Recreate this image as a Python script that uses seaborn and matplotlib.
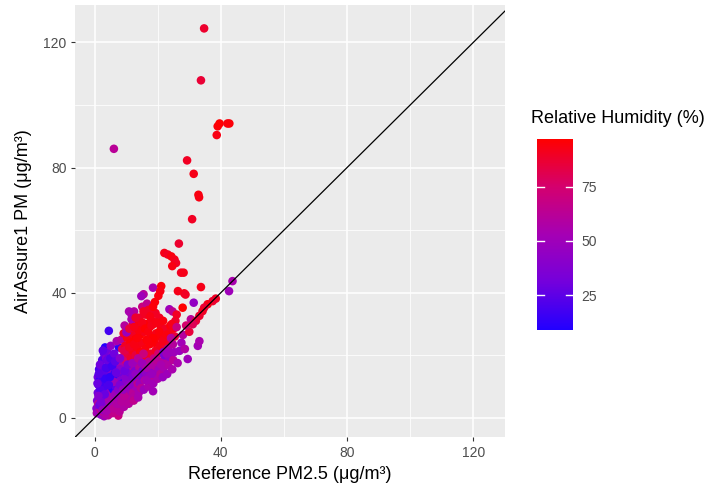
import numpy as np
import pandas as pd
import seaborn as sns
import matplotlib.pyplot as plt
from matplotlib.colors import LinearSegmentedColormap, Normalize
from matplotlib.cm import ScalarMappable
from matplotlib.ticker import MultipleLocator

plt.rcParams['font.family'] = ['Liberation Sans', 'DejaVu Sans']

# Dense cloud (x, y, RH)
core_x = [0.6, 0.8, 1.0, 1.2, 1.0, 1.4, 0.7, 1.3, 1.5, 1.6,
          2.0, 2.2, 2.5, 2.3, 2.6, 2.1, 2.8, 2.4, 3.0, 2.9, 3.0, 2.7, 3.2,
          3.5, 3.8, 4.0, 3.6, 4.2, 3.9, 4.4, 3.7, 4.5, 3.3, 4.3, 4.6, 4.8, 4.1,
          5.0, 5.3, 5.5, 5.2, 5.8, 5.4, 6.0, 5.6, 5.1, 6.2, 5.9, 6.3,
          6.6, 6.8, 7.0, 7.2, 6.9, 7.4, 7.1, 7.7, 7.5, 7.0, 7.6, 6.7,
          8.0, 8.3, 8.6, 8.2, 8.8, 8.4, 9.0, 8.7, 8.5, 9.1, 8.9, 8.1, 9.2,
          9.6, 9.9, 10.2, 9.8, 10.4, 10.0, 10.5, 9.7, 10.3, 10.1, 10.6, 9.5,
          11.0, 11.3, 11.6, 11.2, 11.9, 11.5, 12.0, 11.4, 11.8, 12.1, 11.7, 12.2, 11.1,
          12.6, 12.9, 13.2, 12.8, 13.4, 13.0, 13.5, 12.7, 13.3, 13.1, 12.5, 13.6,
          14.0, 14.3, 14.6, 14.2, 14.8, 14.5, 15.0, 14.4, 14.9, 14.1, 15.1, 14.7, 15.2,
          15.6, 15.9, 16.2, 15.8, 16.4, 16.0, 16.5, 15.7, 16.3, 16.1, 16.6, 15.5,
          17.0, 17.3, 17.6, 17.2, 17.8, 17.5, 18.0, 17.4, 17.9, 17.1, 18.2,
          18.6, 18.9, 19.2, 18.8, 19.4, 19.0, 19.5, 18.7, 19.3, 19.1, 18.5,
          20.0, 20.3, 20.6, 20.2, 20.8, 20.4, 21.0, 20.5, 21.1, 20.8, 20.2, 20.9,
          21.6, 21.9, 22.2, 21.8, 22.4, 22.0, 22.5, 21.7, 22.1,
          23.0, 23.3, 23.6, 23.2, 23.8, 23.5, 24.0, 23.7,
          24.6, 24.9, 25.2, 24.8, 25.4, 25.0, 25.6, 24.7,
          1.8, 2.4, 3.1, 3.8, 4.6, 5.4, 6.1, 6.9, 1.1, 1.9, 2.7, 3.5, 4.4, 5.7,
          7.9, 9.3, 10.8, 12.4, 13.8, 10.9, 11.9, 14.8, 10.1, 11.7, 14.8, 18.5]
core_y = [3.0, 5.5, 8.0, 10.5, 13.0, 15.5, 1.5, 2.0, 6.5, 12.0,
          1.0, 3.5, 6.0, 8.5, 11.0, 13.5, 16.0, 18.5, 20.5, 4.5, 0.5, 9.5, 14.0,
          1.5, 4.0, 6.5, 9.0, 11.5, 14.5, 17.0, 19.0, 27.8, 22.5, 0.8, 3.0, 8.0, 21.0,
          2.5, 5.0, 7.5, 10.0, 12.5, 15.0, 17.5, 20.0, 23.0, 4.0, 9.0, 14.0,
          2.0, 5.5, 8.5, 11.0, 13.5, 16.0, 19.0, 22.5, 0.7, 24.5, 6.5, 10.0,
          4.0, 7.0, 9.5, 12.0, 14.5, 17.0, 19.5, 22.0, 25.0, 5.5, 11.0, 15.5, 27.0,
          5.0, 8.0, 10.5, 13.0, 15.5, 18.0, 20.5, 23.0, 25.5, 28.0, 7.0, 29.5,
          6.0, 9.0, 11.5, 14.0, 16.5, 19.0, 21.5, 24.0, 27.0, 30.0, 33.0, 8.0, 12.5,
          7.0, 10.0, 12.5, 15.0, 17.5, 20.0, 22.5, 25.0, 27.5, 30.5, 34.0, 11.0,
          8.0, 11.0, 13.5, 16.0, 18.5, 21.0, 24.0, 26.5, 29.0, 32.0, 35.5, 9.5, 15.0,
          9.0, 12.0, 14.5, 17.0, 19.5, 22.0, 25.0, 27.5, 30.0, 33.0, 36.5, 39.5,
          10.0, 13.0, 15.5, 18.0, 20.5, 23.5, 26.0, 29.0, 31.5, 34.5, 11.5,
          11.0, 14.0, 16.5, 19.0, 21.5, 24.0, 27.0, 30.0, 33.5, 37.0, 41.6,
          12.5, 15.5, 18.0, 20.5, 23.0, 26.0, 29.0, 32.0, 42.1, 40.5, 39.0, 14.0,
          13.0, 16.0, 18.5, 21.0, 23.5, 26.0, 28.5, 31.0, 20.0,
          14.0, 17.0, 19.5, 22.0, 24.5, 27.0, 29.5, 34.7,
          15.5, 18.5, 21.0, 23.5, 26.0, 28.5, 31.0, 34.0,
          7.0, 10.0, 12.0, 16.0, 13.0, 18.0, 11.5, 14.5, 4.5, 2.5, 2.0, 1.0, 5.5, 1.5,
          2.0, 3.5, 4.5, 5.5, 6.5, 34.0, 31.5, 38.9, 27.3, 31.5, 20.5, 8.5]
core_rh = [40, 35, 30, 25, 30, 20, 55, 50, 45, 15,
           45, 38, 20, 15, 25, 35, 30, 22, 28, 60, 50, 12, 18,
           55, 42, 30, 20, 14, 25, 32, 38, 18, 10, 62, 48, 40, 30,
           50, 45, 55, 20, 22, 35, 28, 40, 45, 60, 12, 15,
           58, 50, 42, 30, 18, 35, 48, 12, 70, 55, 65, 25,
           52, 60, 45, 38, 30, 55, 70, 80, 60, 48, 20, 42, 88,
           55, 62, 48, 40, 28, 75, 85, 90, 92, 80, 45, 60,
           58, 50, 42, 35, 60, 88, 92, 95, 90, 88, 55, 62, 30,
           60, 52, 45, 38, 55, 85, 93, 96, 90, 94, 60, 65,
           55, 48, 40, 60, 80, 95, 92, 96, 90, 88, 70, 62, 35,
           50, 58, 45, 65, 90, 94, 96, 92, 95, 90, 65, 60,
           55, 48, 40, 62, 88, 95, 93, 96, 92, 90, 65,
           52, 45, 58, 70, 90, 95, 92, 94, 90, 95, 55,
           55, 50, 62, 75, 92, 95, 92, 90, 95, 93, 94, 60,
           48, 55, 60, 42, 88, 93, 90, 94, 35,
           50, 58, 45, 55, 88, 92, 95, 50,
           55, 62, 50, 60, 85, 92, 88, 65,
           35, 20, 28, 15, 40, 25, 50, 45, 60, 65, 68, 58, 55, 66,
           62, 58, 60, 65, 55, 55, 50, 50, 48, 55, 92, 52]

# Extra points where the cloud is packed solid
fill_x = [1.5, 1.8, 2.0, 2.2, 1.7, 3.4, 3.6, 4.0, 2.6, 5.0, 5.5, 6.2, 6.5, 4.8, 4.5, 3.2, 2.0,
          1.2, 0.9, 1.3,
          2.5, 3.8, 5.0, 6.0, 7.0, 7.8, 8.5, 9.5, 6.5, 7.5, 8.0, 9.0, 10.0, 11.0, 12.0, 13.0,
          9.5, 10.5, 8.0, 6.8, 12.0, 13.8, 15.0, 16.5, 18.0, 19.5, 16.5, 18.0, 21.0, 22.8, 15.5,
          9.5, 11.0, 12.5, 13.5, 14.0, 15.0, 16.0, 17.0, 18.0, 18.5, 19.5, 20.5, 17.5, 18.5,
          15.5, 13.0, 11.0, 12.5, 16.8, 21.5, 22.8, 24.5, 26.0]
fill_y = [4.0, 9.0, 11.5, 15.0, 17.0, 12.5, 16.0, 18.5, 21.5, 19.0, 16.5, 20.5, 18.0, 13.0,
          10.5, 7.5, 5.0, 7.0, 11.0, 14.0,
          2.5, 2.2, 4.2, 3.0, 4.5, 6.0, 5.2, 7.0, 7.5, 9.0, 10.5, 9.0, 12.0, 10.5, 13.0, 14.0,
          15.0, 17.0, 19.0, 14.5, 17.5, 19.0, 17.5, 16.0, 17.0, 18.5, 12.0, 14.0, 17.0, 20.5, 20.5,
          21.5, 22.5, 23.5, 25.5, 28.0, 30.5, 28.5, 27.5, 29.5, 25.5, 30.5, 27.5, 32.5, 35.5,
          34.0, 32.0, 28.5, 29.0, 24.5, 24.5, 26.5, 30.0, 33.0]
fill_rh = [30, 22, 18, 25, 30, 15, 20, 28, 25, 22, 18, 30, 25, 14, 20, 28, 35, 38, 28, 24,
           48, 55, 52, 62, 58, 55, 60, 62, 50, 42, 35, 48, 40, 45, 38, 45,
           30, 35, 40, 28, 50, 62, 50, 55, 58, 62, 52, 48, 55, 50, 70,
           82, 90, 93, 95, 94, 92, 96, 94, 92, 96, 93, 95, 93, 95,
           90, 88, 85, 92, 95, 92, 94, 92, 90]

# Points running up along the 1:1 line and stragglers on the right
tail_x = [26.9, 26.3, 27.5, 28.0, 29.5, 28.6, 30.0, 32.7, 33.2, 30.5, 29.0, 31.4, 26.4, 27.9,
          38.4, 37.4, 35.8, 34.7, 34.2, 33.2, 32.1, 31.1, 28.4, 28.8, 26.0, 24.2]
tail_y = [21.4, 17.5, 24.0, 26.5, 18.8, 22.0, 27.5, 23.0, 24.5, 31.5, 29.5, 36.8, 40.5, 35.2,
          38.1, 37.3, 36.3, 35.2, 34.1, 32.6, 31.0, 29.9, 39.8, 39.4, 29.0, 25.5]
tail_rh = [48, 55, 52, 60, 50, 58, 85, 52, 55, 62, 75, 45, 92, 97,
           90, 88, 92, 86, 90, 88, 85, 80, 92, 90, 70, 62]

# Isolated high readings
out_x = [34.7, 33.7, 39.0, 39.6, 42.1, 42.7, 38.7, 6.1, 29.3, 31.4, 32.9, 33.1, 30.9, 26.7,
         22.1, 23.2, 24.3, 25.3, 25.8, 24.6, 27.4, 28.2, 33.7, 43.7, 42.6]
out_y = [124.5, 107.9, 93.2, 94.1, 94.1, 94.1, 90.4, 86.0, 82.3, 78.0, 71.3, 70.5, 63.5, 55.7,
         52.7, 52.2, 51.6, 50.6, 49.5, 48.5, 46.4, 46.4, 41.8, 43.7, 40.5]
out_rh = [88, 86, 95, 96, 94, 95, 93, 62, 90, 92, 94, 93, 90, 88,
          92, 90, 94, 92, 90, 93, 90, 92, 92, 55, 50]

df = pd.DataFrame({
    'ref': core_x + fill_x + tail_x + out_x,
    'pm': core_y + fill_y + tail_y + out_y,
    'rh': core_rh + fill_rh + tail_rh + out_rh,
})

cmap = LinearSegmentedColormap.from_list(
    'rh', ['#2200FF', '#7400DC', '#A500B4', '#D4006E', '#FF0000'])
norm = Normalize(vmin=9, vmax=97)

fig = plt.figure(figsize=(7.15, 4.94), dpi=100)
ax = fig.add_axes([0.105, 0.115, 0.601, 0.875])
ax.set_facecolor('#EBEBEB')

sns.scatterplot(data=df, x='ref', y='pm', hue='rh', palette=cmap, hue_norm=norm,
                s=38, linewidth=0, legend=False, ax=ax, zorder=3)
ax.axline((0, 0), slope=1, color='black', lw=0.9, zorder=4)

ax.set_xlim(-6.2, 130)
ax.set_ylim(-6.2, 132)
ax.xaxis.set_major_locator(MultipleLocator(40))
ax.yaxis.set_major_locator(MultipleLocator(40))
ax.xaxis.set_minor_locator(MultipleLocator(20))
ax.yaxis.set_minor_locator(MultipleLocator(20))
ax.grid(which='major', color='white', lw=1.1, zorder=0)
ax.grid(which='minor', color='white', lw=0.55, zorder=0)
ax.set_axisbelow(True)
for sp in ax.spines.values():
    sp.set_visible(False)
ax.tick_params(which='major', length=3, color='#333333', labelsize=10,
               labelcolor='#4D4D4D', pad=3)
ax.tick_params(which='minor', length=0)

ax.set_xlabel('Reference PM2.5 (μg/m³)', fontsize=13, labelpad=5)
ax.set_ylabel('AirAssure1 PM (μg/m³)', fontsize=13, labelpad=8)

cax = fig.add_axes([0.751, 0.332, 0.050, 0.387])
cb = fig.colorbar(ScalarMappable(norm=norm, cmap=cmap), cax=cax, ticks=[25, 50, 75])
cb.outline.set_visible(False)
cax.tick_params(length=0, labelsize=10, labelcolor='#4D4D4D', pad=6)
for t in [25, 50, 75]:
    cax.plot([0, 0.2], [t, t], color='white', lw=1, transform=cax.get_yaxis_transform())
    cax.plot([0.8, 1.0], [t, t], color='white', lw=1, transform=cax.get_yaxis_transform())
fig.text(0.743, 0.742, 'Relative Humidity (%)', fontsize=13, ha='left', va='bottom')

fig.savefig('out.png', dpi=100)
